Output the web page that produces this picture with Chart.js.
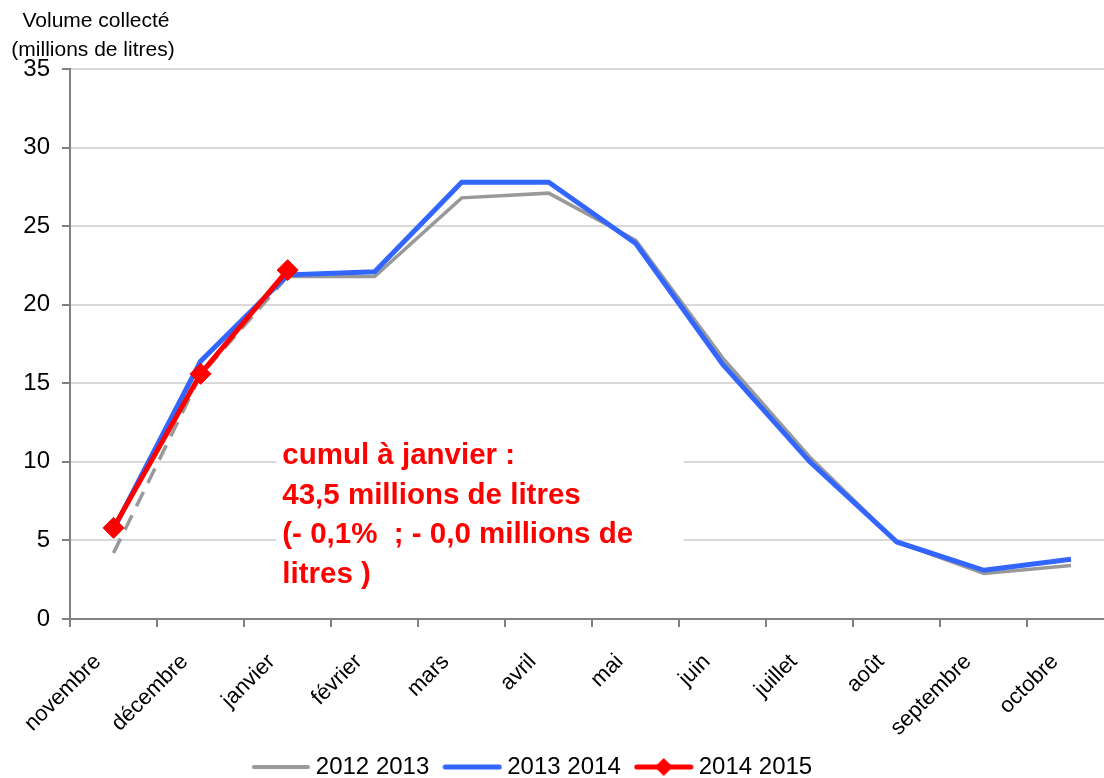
<!DOCTYPE html>
<html><head><meta charset="utf-8">
<script src="https://cdn.jsdelivr.net/npm/chart.js@4"></script>
<style>html,body{margin:0;padding:0;background:#fff;overflow:hidden;} #wrap{width:1104px;height:778px;overflow:hidden;position:relative;}</style>
</head><body><div id="wrap"><canvas id="c" width="1126" height="778"></canvas></div>
<script>
const months = ['novembre','décembre','janvier','février','mars','avril','mai','juin','juillet','août','septembre','octobre'];
const s2012_2013 = [4.2,15.5,21.8,21.8,26.8,27.1,24.1,16.6,10.3,4.9,2.9,3.4];
const s2013_2014 = [5.7,16.4,21.9,22.1,27.8,27.8,23.9,16.2,10.0,4.9,3.1,3.8];
const s2014_2015 = [5.8,15.6,22.2];
const yTicks = [0,5,10,15,20,25,30,35];
const seriesNames = ['2012 2013','2013 2014','2014 2015'];
const seriesColors = ['#999999','#3366ff','#ff0000'];
const axisTitle = ['Volume collecté','(millions de litres)'];
const noteLines = ['cumul à janvier :','43,5 millions de litres','(- 0,1%  ; - 0,0 millions de','litres )'];

const FONT = "'Liberation Sans', Arial, sans-serif";
Chart.defaults.font.family = FONT;
Chart.defaults.color = '#000';

function legendImage(color, width, marker) {
  const cv = document.createElement('canvas');
  cv.width = 60; cv.height = 20;
  const g = cv.getContext('2d');
  g.strokeStyle = color; g.lineWidth = width; g.lineCap = 'round';
  g.beginPath(); g.moveTo(3, 10); g.lineTo(57, 10); g.stroke();
  if (marker) {
    g.fillStyle = color; g.beginPath();
    g.moveTo(30, 1); g.lineTo(39, 10); g.lineTo(30, 19); g.lineTo(21, 10); g.closePath(); g.fill();
  }
  return cv;
}
const legendImgs = [legendImage(seriesColors[0], 4, false), legendImage(seriesColors[1], 5, false), legendImage(seriesColors[2], 5, true)];

const axisTitlePlugin = {
  id: 'axisTitle',
  afterDraw(chart) {
    const {ctx, chartArea} = chart;
    ctx.save();
    ctx.font = '21px ' + FONT;
    ctx.fillStyle = '#000';
    ctx.textAlign = 'center';
    ctx.textBaseline = 'middle';
    ctx.fillText(axisTitle[0], chartArea.left + 26, chartArea.top - 48);
    ctx.fillText(axisTitle[1], chartArea.left + 23, chartArea.top - 19);
    ctx.restore();
  }
};

const notePlugin = {
  id: 'note',
  beforeDatasetsDraw(chart) {
    const {ctx} = chart;
    const xs = chart.scales.x, ys = chart.scales.y;
    const cw = xs.getPixelForValue(1) - xs.getPixelForValue(0);
    const left = xs.getPixelForValue(2) - 0.13 * cw;
    const right = xs.getPixelForValue(6) + 0.55 * cw;
    const top = ys.getPixelForValue(11.5);
    const bottom = ys.getPixelForValue(1.2);
    ctx.save();
    ctx.fillStyle = '#fff';
    ctx.fillRect(left, top, right - left, bottom - top);
    ctx.font = 'bold 29.5px ' + FONT;
    ctx.fillStyle = '#ff0000';
    ctx.textAlign = 'left';
    ctx.textBaseline = 'middle';
    noteLines.forEach((t, i) => ctx.fillText(t, left + 6, top + 18 + i * 39.5));
    ctx.restore();
  }
};

const layoutTweak = {
  id: 'layoutTweak',
  afterLayout(chart) {
    const lg = chart.legend;
    if (lg) {
      lg.left = 0; lg.right = 1070;
      lg.top += 11; lg.bottom += 11;
    }
    const xs = chart.scales.x;
    if (xs) xs.bottom += 40;
  }
};

new Chart(document.getElementById('c'), {
  type: 'line',
  data: {
    labels: months,
    datasets: [
      { label: seriesNames[0], data: s2012_2013, borderColor: seriesColors[0], backgroundColor: seriesColors[0], borderWidth: 3.5, pointRadius: 0, tension: 0, order: 3,
        segment: { borderDash: c => c.p0DataIndex < 2 ? [16, 10] : undefined } },
      { label: seriesNames[1], data: s2013_2014, borderColor: seriesColors[1], backgroundColor: seriesColors[1], borderWidth: 5, pointRadius: 0, tension: 0, order: 2 },
      { label: seriesNames[2], data: s2014_2015, borderColor: seriesColors[2], backgroundColor: seriesColors[2], borderWidth: 5, pointStyle: 'rectRot', pointRadius: 10.5, pointBorderWidth: 1, pointBackgroundColor: seriesColors[2], pointBorderColor: seriesColors[2], tension: 0, order: 1 }
    ]
  },
  options: {
    responsive: false,
    animation: false,
    devicePixelRatio: 1,
    layout: { padding: { top: 69, right: 2, left: 0, bottom: 0 } },
    plugins: {
      tooltip: { enabled: false },
      title: { display: false },
      legend: {
        position: 'bottom',
        labels: {
          usePointStyle: true,
          pointStyleWidth: 46,
          padding: 20,
          font: { size: 24 },
          color: '#000',
          generateLabels(chart) {
            return chart.data.datasets.map((ds, i) => ({
              text: ds.label, pointStyle: legendImgs[i], fillStyle: ds.borderColor,
              strokeStyle: ds.borderColor, lineWidth: 0, hidden: false, datasetIndex: i, fontColor: '#000'
            }));
          }
        }
      }
    },
    scales: {
      x: {
        offset: true,
        grid: { display: true, offset: true, drawOnChartArea: false, drawTicks: true, tickLength: 8, color: '#808080', tickColor: '#808080', lineWidth: 2 },
        border: { display: true, color: '#808080', width: 2 },
        ticks: { minRotation: 45, maxRotation: 45, autoSkip: false, font: { size: 22 }, color: '#000', padding: 22, labelOffset: -16 },
        afterFit(axis) { axis.height = 105; }
      },
      y: {
        min: 0, max: 35,
        afterBuildTicks(axis) { axis.ticks = yTicks.map(v => ({ value: v })); },
        grid: { color: c => (c.tick && c.tick.value === 0) ? '#808080' : '#d9d9d9', tickColor: '#808080', lineWidth: 2, tickLength: 8 },
        border: { display: true, color: '#808080', width: 2 },
        ticks: { font: { size: 24 }, color: '#000', padding: 12 },
        afterFit(axis) { axis.width = 70; }
      }
    }
  },
  plugins: [axisTitlePlugin, notePlugin, layoutTweak]
});
</script></body></html>
